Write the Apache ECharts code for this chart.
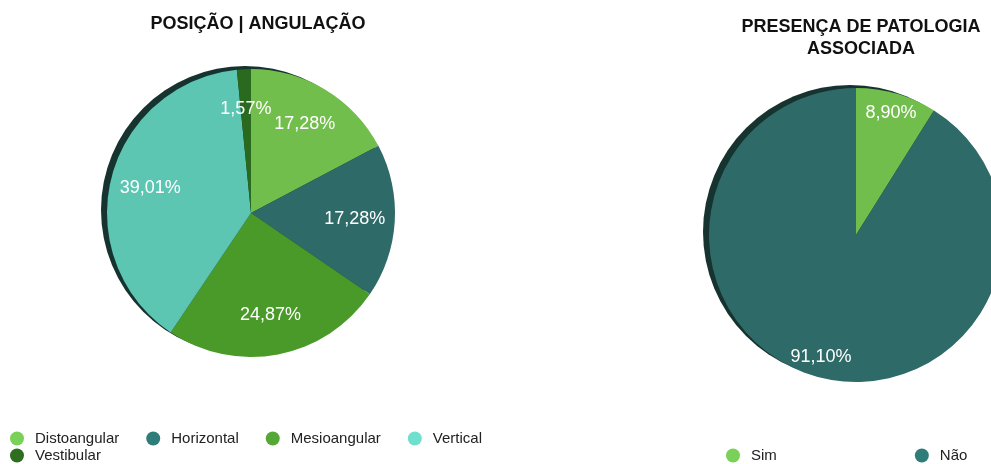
<!DOCTYPE html>
<html>
<head>
<meta charset="utf-8">
<script src="https://cdn.jsdelivr.net/npm/echarts@6/dist/echarts.min.js"></script>
<style>html,body{margin:0;padding:0;background:#fff}#c{width:991px;height:464px}</style>
</head>
<body>
<div id="c"></div>
<script>
const title1 = 'POSIÇÃO | ANGULAÇÃO';
const title2 = 'PRESENÇA DE PATOLOGIA\nASSOCIADA';
const cats1 = ['Distoangular', 'Horizontal', 'Mesioangular', 'Vertical', 'Vestibular'];
const vals1 = [17.28, 17.28, 24.87, 39.01, 1.57];
const colors1 = ['#72be4c', '#2e6a67', '#4a9a2a', '#5cc6b3', '#2a6a1e'];
const legendColors1 = ['#79d158', '#2e7d78', '#55a835', '#6fe0cd', '#2f6d20'];
const cats2 = ['Sim', 'Não'];
const vals2 = [8.90, 91.10];
const colors2 = ['#72be4c', '#2e6a67'];
const legendColors2 = ['#79d158', '#2e7d78'];

const FONT = '"Liberation Sans", Arial, Helvetica, sans-serif';
const fmt = v => v.toFixed(2).replace('.', ',') + '%';

function pieData(cats, vals, cols) {
  return cats.map((c, i) => ({ name: c, value: vals[i], itemStyle: { color: cols[i] } }));
}
function labelData(cats, vals) {
  return cats.map((c, i) => ({ name: c + ' ', value: vals[i], itemStyle: { color: 'rgba(0,0,0,0)' } }));
}
const sum = a => a.reduce((s, v) => s + v, 0);

const chart = echarts.init(document.getElementById('c'), null, { renderer: 'canvas' });
chart.setOption({
  animation: false,
  title: [
    { text: title1, left: 253, top: 10, textAlign: 'center',
      textStyle: { fontFamily: FONT, fontSize: 18, fontWeight: 'bold', color: '#111' } },
    { text: title2, left: 856, top: 11, textAlign: 'center',
      textStyle: { fontFamily: FONT, fontSize: 18, fontWeight: 'bold', color: '#111', lineHeight: 22 } }
  ],
  legend: [
    { data: cats1.map((c, i) => ({ name: c, itemStyle: { color: legendColors1[i] } })),
      left: 5, top: 426, width: 510, orient: 'horizontal',
      icon: 'circle', itemWidth: 14, itemHeight: 14, itemGap: 2,
      formatter: n => n + '      ',
      textStyle: { fontFamily: FONT, fontSize: 15, color: '#222', padding: [0, 0, 0, 6] } },
    { data: cats2.map((c, i) => ({ name: c, itemStyle: { color: legendColors2[i] } })),
      left: 721, top: 443, orient: 'horizontal',
      icon: 'circle', itemWidth: 14, itemHeight: 14, itemGap: 138,
      textStyle: { fontFamily: FONT, fontSize: 15, color: '#222', padding: [0, 0, 0, 6] } }
  ],
  series: [
    { type: 'pie', name: 'shadow1', silent: true, center: [245, 210], radius: 144,
      label: { show: false }, labelLine: { show: false },
      data: [{ name: '_s1', value: sum(vals1), itemStyle: { color: '#16332f' } }] },
    { type: 'pie', name: 'p1', center: [251, 213], radius: 144, startAngle: 90,
      label: { show: false }, labelLine: { show: false },
      itemStyle: { borderWidth: 0 },
      data: pieData(cats1, vals1, colors1) },
    { type: 'pie', name: 'l1', silent: true, center: [251, 213], radius: [58, 144], startAngle: 90,
      itemStyle: { borderWidth: 0 },
      label: { show: true, position: 'inside', color: '#fff', fontFamily: FONT, fontSize: 18,
        formatter: p => fmt(p.value) },
      labelLine: { show: false },
      data: labelData(cats1, vals1) },
    { type: 'pie', name: 'shadow2', silent: true, center: [850, 232], radius: 147,
      label: { show: false }, labelLine: { show: false },
      data: [{ name: '_s2', value: sum(vals2), itemStyle: { color: '#16332f' } }] },
    { type: 'pie', name: 'p2', center: [856, 235], radius: 147, startAngle: 90,
      label: { show: false }, labelLine: { show: false },
      itemStyle: { borderWidth: 0 },
      data: pieData(cats2, vals2, colors2) },
    { type: 'pie', name: 'l2', silent: true, center: [856, 235], radius: [100, 147], startAngle: 90,
      itemStyle: { borderWidth: 0 },
      label: { show: true, position: 'inside', color: '#fff', fontFamily: FONT, fontSize: 18,
        formatter: p => fmt(p.value) },
      labelLine: { show: false },
      data: labelData(cats2, vals2) }
  ]
});
</script>
</body>
</html>
